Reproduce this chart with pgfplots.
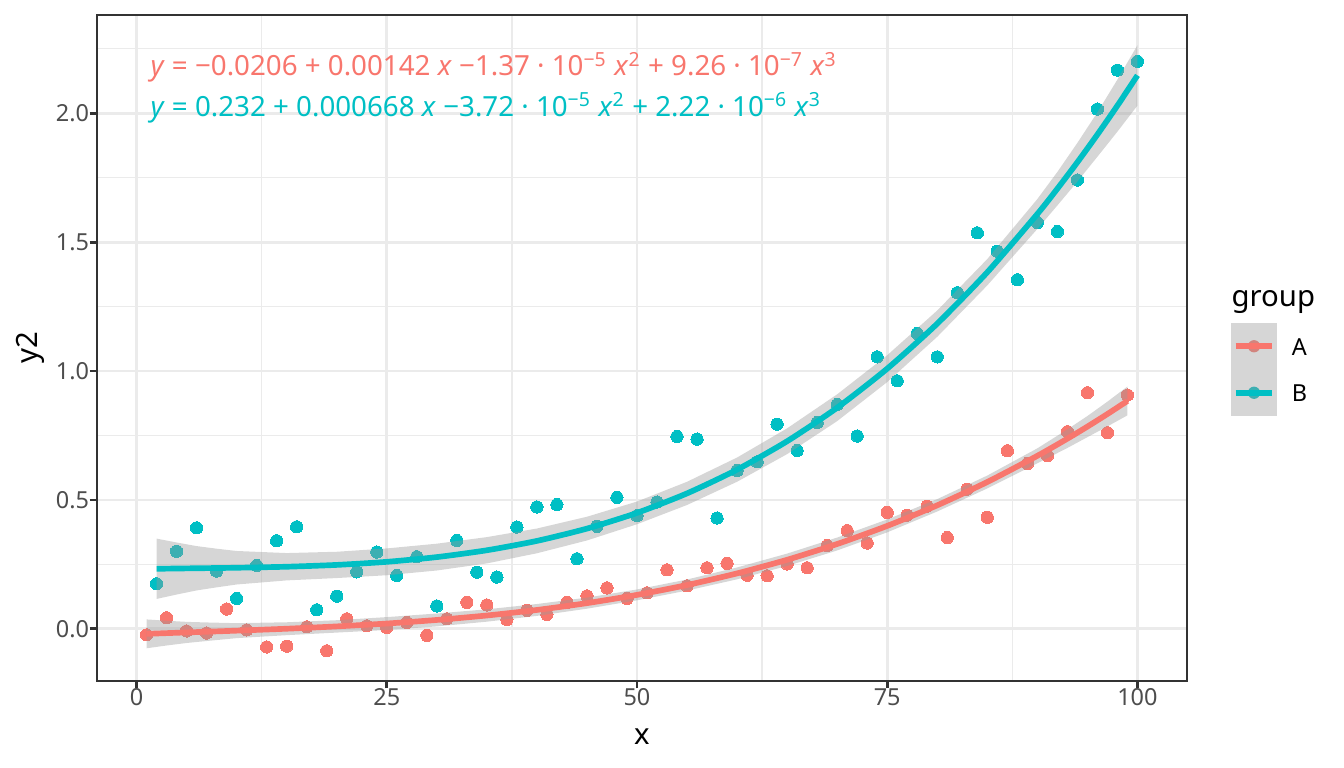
\documentclass[border=0pt]{standalone}
\usepackage{fontspec}
\setmainfont{Noto Sans}
\usepackage{pgfplots}
\pgfplotsset{compat=1.18}
\definecolor{colA}{HTML}{F8766D}
\definecolor{colB}{HTML}{00BFC4}
\definecolor{bandgrey}{HTML}{999999}
\definecolor{gridgrey}{HTML}{EBEBEB}
\definecolor{tickgrey}{HTML}{4D4D4D}
\definecolor{bordergrey}{HTML}{333333}
\begin{document}
\begin{tikzpicture}
\useasboundingbox (0,0) rectangle (504pt,288pt);
\begin{axis}[
  at={(36.375pt,32.625pt)}, anchor=south west,
  scale only axis, width=408.75pt, height=249.75pt,
  clip mode=individual,
  xmin=-3.95, xmax=104.95, ymin=-0.202, ymax=2.381,
  xtick={0,25,50,75,100}, xticklabels={0,25,50,75,100},
  ytick={0,0.5,1,1.5,2}, yticklabels={0.0,0.5,1.0,1.5,2.0},
  minor xtick={12.5,37.5,62.5,87.5},
  minor ytick={0.25,0.75,1.25,1.75,2.25},
  grid=both,
  major grid style={draw=gridgrey, line width=1.07pt},
  minor grid style={draw=gridgrey, line width=0.53pt},
  tick align=outside, xtick pos=bottom, ytick pos=left,
  major tick length=2.75pt, minor tick length=0pt,
  tick style={draw=bordergrey, line width=1.07pt},
  axis line style={draw=bordergrey, line width=0.55pt},
  tick label style={font=\fontsize{8.8}{10}\selectfont, text=tickgrey, inner sep=0pt},
  xlabel={x}, ylabel={y2},
  xlabel style={at={(axis description cs:0.5,-0.084)}, anchor=center, font=\fontsize{11}{13}\selectfont},
  ylabel style={at={(axis description cs:-0.0615,0.5)}, anchor=center, font=\fontsize{11}{13}\selectfont},
  legend style={at={(axis description cs:1.0404,0.5375)}, anchor=north west,
    draw=none, fill=none, inner sep=0pt, outer sep=0pt, row sep=0pt,
    font=\fontsize{8.8}{10}\selectfont,
    /tikz/every odd column/.append style={column sep=5.6pt},
    nodes={inner sep=0pt, anchor=west, yshift=-0.9pt}},
  legend cell align=left,
]
% points
\addplot[only marks, color=colA, mark=*, mark size=2.3pt, mark options={solid, fill=colA, draw=colA, line width=0pt}, forget plot] table {
x y
1 -0.023
3 0.043
5 -0.008
7 -0.016
9 0.077
11 -0.004
13 -0.070
15 -0.067
17 0.008
19 -0.085
21 0.039
23 0.012
25 0.006
27 0.025
29 -0.025
31 0.039
33 0.103
35 0.093
37 0.036
39 0.072
41 0.056
43 0.103
45 0.128
47 0.159
49 0.118
51 0.140
53 0.229
55 0.167
57 0.237
59 0.254
61 0.208
63 0.206
65 0.252
67 0.237
69 0.323
71 0.381
73 0.333
75 0.452
77 0.441
79 0.476
81 0.354
83 0.542
85 0.433
87 0.691
89 0.641
91 0.672
93 0.765
95 0.916
97 0.761
99 0.907
};
\addplot[only marks, color=colB, mark=*, mark size=2.3pt, mark options={solid, fill=colB, draw=colB, line width=0pt}, forget plot] table {
x y
2 0.175
4 0.301
6 0.392
8 0.224
10 0.118
12 0.246
14 0.342
16 0.396
18 0.074
20 0.127
22 0.221
24 0.298
26 0.207
28 0.280
30 0.089
32 0.343
34 0.220
36 0.201
38 0.395
40 0.473
42 0.482
44 0.272
46 0.398
48 0.510
50 0.439
52 0.492
54 0.746
56 0.736
58 0.430
60 0.614
62 0.648
64 0.794
66 0.692
68 0.800
70 0.870
72 0.748
74 1.055
76 0.962
78 1.146
80 1.055
82 1.304
84 1.536
86 1.465
88 1.354
90 1.576
92 1.541
94 1.741
96 2.016
98 2.167
100 2.201
};
% band A
\addplot[fill=bandgrey, fill opacity=0.4, draw=none, forget plot] table {
x y
1 0.0368
3 0.0316
5 0.0273
7 0.0250
10 0.0222
15 0.0257
20 0.0337
25 0.0458
30 0.0597
35 0.0760
40 0.0965
45 0.1214
50 0.1529
55 0.1916
60 0.2383
65 0.2921
70 0.3543
75 0.4245
80 0.5034
85 0.5948
90 0.7003
93 0.7738
95 0.8256
97 0.8814
99 0.9402
99 0.8282
97 0.7854
95 0.7436
93 0.7018
90 0.6423
85 0.5448
80 0.4554
75 0.3745
70 0.3043
65 0.2441
60 0.1923
55 0.1486
50 0.1109
45 0.0784
40 0.0505
35 0.0280
30 0.0097
25 -0.0042
20 -0.0143
15 -0.0243
10 -0.0358
7 -0.0470
5 -0.0547
3 -0.0644
1 -0.0752
};
\addplot[colA, line width=2.13pt, smooth, tension=0.4,
  legend image code/.code={
    \fill[white, draw=none] (0pt,-8.72pt) rectangle (17.25pt,8.72pt);
    \fill[colA, draw=none] (8.625pt,0pt) circle[radius=2.3pt];
    \fill[bandgrey, fill opacity=0.4, draw=none] (0pt,-8.72pt) rectangle (17.25pt,8.72pt);
    \draw[colA, line width=2.13pt] (1.72pt,0pt) -- (15.53pt,0pt);
  }] table {
x y
1 -0.0192
3 -0.0164
5 -0.0137
7 -0.0110
10 -0.0068
15 0.0007
20 0.0097
25 0.0208
30 0.0347
35 0.0520
40 0.0735
45 0.0999
50 0.1319
55 0.1701
60 0.2153
65 0.2681
70 0.3293
75 0.3995
80 0.4794
85 0.5698
90 0.6713
93 0.7378
95 0.7846
97 0.8334
99 0.8842
};
\addlegendentry{A}
% band B
\addplot[fill=bandgrey, fill opacity=0.4, draw=none, forget plot] table {
x y
2 0.3502
4 0.3352
6 0.3212
8 0.3111
10 0.3022
15 0.2941
20 0.2992
25 0.3121
30 0.3305
35 0.3560
40 0.3893
45 0.4350
50 0.4939
55 0.5706
60 0.6647
65 0.7779
70 0.9099
75 1.0614
80 1.2350
85 1.4344
90 1.6672
92 1.7723
94 1.8850
96 2.0034
98 2.1306
100 2.2638
100 2.0298
98 1.9286
96 1.8314
94 1.7350
92 1.6423
90 1.5512
85 1.3324
80 1.1330
75 0.9574
70 0.8059
65 0.6779
60 0.5707
55 0.4806
50 0.4059
45 0.3430
40 0.2933
35 0.2540
30 0.2265
25 0.2081
20 0.1972
15 0.1881
10 0.1722
8 0.1611
6 0.1492
4 0.1332
2 0.1162
};
\addplot[colB, line width=2.13pt, smooth, tension=0.4,
  legend image code/.code={
    \fill[white, draw=none] (0pt,-8.72pt) rectangle (17.25pt,8.72pt);
    \fill[colB, draw=none] (8.625pt,0pt) circle[radius=2.3pt];
    \fill[bandgrey, fill opacity=0.4, draw=none] (0pt,-8.72pt) rectangle (17.25pt,8.72pt);
    \draw[colB, line width=2.13pt] (1.72pt,0pt) -- (15.53pt,0pt);
  }] table {
x y
2 0.2332
4 0.2342
6 0.2352
8 0.2361
10 0.2372
15 0.2411
20 0.2482
25 0.2601
30 0.2785
35 0.3050
40 0.3413
45 0.3890
50 0.4499
55 0.5256
60 0.6177
65 0.7279
70 0.8579
75 1.0094
80 1.1840
85 1.3834
90 1.6092
92 1.7073
94 1.8100
96 1.9174
98 2.0296
100 2.1468
};
\addlegendentry{B}
\node[anchor=base west, inner sep=0pt, text=colA, font=\fontsize{10.4}{12}\selectfont] at (axis description cs:0.0486,0.9084)
  {\textit{y} = −0.0206 + 0.00142 \textit{x} −1.37 · 10\textsuperscript{−5} \textit{x}\textsuperscript{2} + 9.26 · 10\textsuperscript{−7} \textit{x}\textsuperscript{3}};
\node[anchor=base west, inner sep=0pt, text=colB, font=\fontsize{10.4}{12}\selectfont] at (axis description cs:0.0486,0.8483)
  {\textit{y} = 0.232 + 0.000668 \textit{x} −3.72 · 10\textsuperscript{−5} \textit{x}\textsuperscript{2} + 2.22 · 10\textsuperscript{−6} \textit{x}\textsuperscript{3}};
\node[anchor=base west, inner sep=0pt, font=\fontsize{11}{13}\selectfont] at (axis description cs:1.0404,0.563) {group};
\end{axis}
\end{tikzpicture}
\end{document}
